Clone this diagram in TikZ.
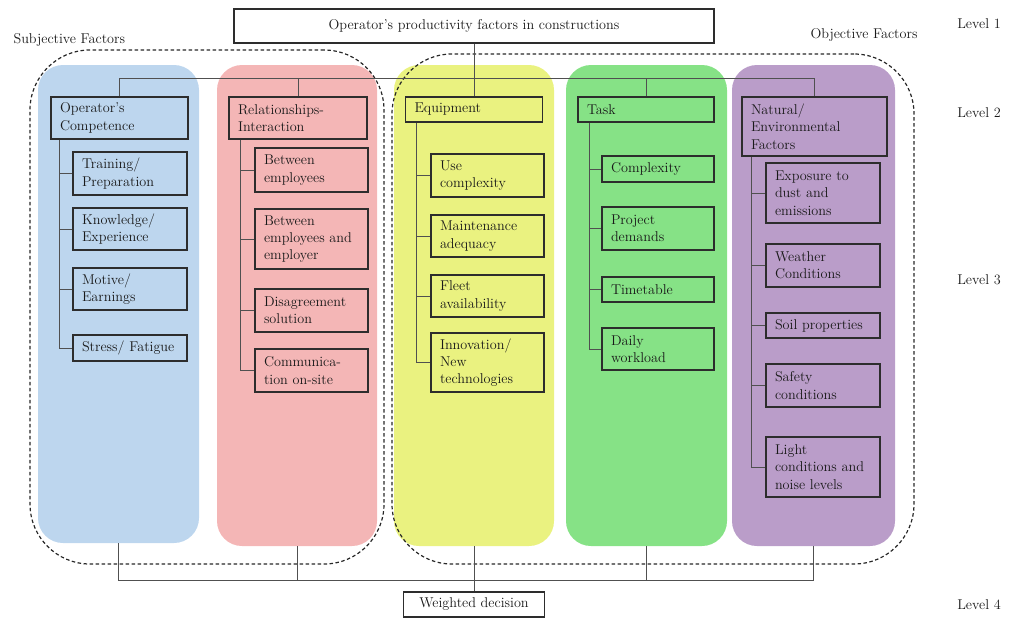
\documentclass[tikz,border=0pt]{standalone}
\usepackage{fontspec}
\definecolor{cblue}{RGB}{189,214,238}
\definecolor{cpink}{RGB}{244,182,182}
\definecolor{cyellow}{RGB}{234,242,128}
\definecolor{cgreen}{RGB}{134,226,134}
\definecolor{cpurple}{RGB}{186,157,201}
\definecolor{boxc}{RGB}{45,45,45}
\definecolor{linec}{RGB}{80,80,80}
\definecolor{dashc}{RGB}{40,40,40}
\definecolor{txt}{RGB}{25,25,25}
\newcommand\fs{\fontsize{14.2}{17.3}\selectfont}
\newcommand\bx[6]{\pgfmathsetmacro\mytw{#4-18}\node[box,minimum width=#4pt,minimum height=#5pt,text width=\mytw pt] (#1) at (#2,#3) {#6};}
\begin{document}
\begin{tikzpicture}[x=1pt,y=-1pt,
  box/.style={draw=boxc,line width=1.3pt,inner xsep=8.5pt,inner ysep=1pt,align=left,text=txt,font=\fs},
  col/.style={rounded corners=25pt,inner sep=0pt},
  conn/.style={draw=linec,line width=0.8pt},
  region/.style={draw=dashc,line width=1.2pt,dash pattern=on 3.5pt off 2.5pt,rounded corners=60pt,inner sep=0pt},
  lvl/.style={font=\fs,text=txt}]
\useasboundingbox (0,0) rectangle (1015,619);
% columns
\node[col,fill=cblue,minimum width=161pt,minimum height=478pt] (colA) at (118.5,304) {};
\node[col,fill=cpink,minimum width=160pt,minimum height=481pt] (colB) at (297,305.5) {};
\node[col,fill=cyellow,minimum width=160pt,minimum height=481pt] (colC) at (474,305.5) {};
\node[col,fill=cgreen,minimum width=161pt,minimum height=481pt] (colD) at (646.5,305.5) {};
\node[col,fill=cpurple,minimum width=163pt,minimum height=481pt] (colE) at (813.5,305.5) {};
% dashed regions
\node[region,minimum width=354pt,minimum height=514pt] (subj) at (207,307) {};
\node[region,minimum width=522pt,minimum height=510pt] (obj) at (653,309) {};
% labels
\node[lvl,anchor=west] (subjL) at (10,40) {Subjective Factors};
\node[lvl,anchor=east] (objL) at (921,35) {Objective Factors};
\node[lvl] (L1) at (979,24) {Level 1};
\node[lvl] (L2) at (979,113) {Level 2};
\node[lvl] (L3) at (979,280) {Level 3};
\node[lvl] (L4) at (979,605) {Level 4};
% level 1 and 4
\node[box,minimum width=480pt,minimum height=34pt] (title) at (474,26) {Operator’s productivity factors in constructions};
\node[box,minimum width=141pt,minimum height=25pt,inner xsep=7pt] (wd) at (474,604.5) {Weighted decision};
% level 2
\bx{comp}{119.5}{118}{137}{42}{Operator’s\\Competence}
\bx{rel}{298}{118}{138}{42}{Relationships-\\Interaction}
\bx{equip}{474}{109.5}{137}{25}{Equipment}
\bx{task}{646}{109.5}{136}{25}{Task}
\bx{nat}{814.5}{126.5}{145}{59}{Natural/\\Environmental\\Factors}
% level 3 blue
\bx{b1}{130}{173.5}{114}{43}{Training/\\Preparation}
\bx{b2}{130}{229}{114}{42}{Knowledge/\\Experience}
\bx{b3}{130}{289}{114}{42}{Motive/\\Earnings}
\bx{b4}{130}{348}{114}{26}{Stress/ Fatigue}
% pink
\bx{p1}{311.5}{170}{113}{44}{Between\\employees}
\bx{p2}{311.5}{239}{113}{60}{Between\\employees and\\employer}
\bx{p3}{311.5}{310.5}{113}{43}{Disagreement\\solution}
\bx{p4}{311.5}{370.5}{113}{43}{Communica-\\tion on-site}
% yellow
\bx{y1}{487.5}{175.5}{113}{43}{Use\\complexity}
\bx{y2}{487.5}{236}{113}{42}{Maintenance\\adequacy}
\bx{y3}{487.5}{296}{113}{42}{Fleet\\availability}
\bx{y4}{487.5}{362.5}{113}{59}{Innovation/\\New\\technologies}
% green
\bx{g1}{658}{169}{112}{26}{Complexity}
\bx{g2}{658}{228.5}{112}{43}{Project\\demands}
\bx{g3}{658}{289.5}{112}{25}{Timetable}
\bx{g4}{658}{349}{112}{42}{Daily\\workload}
% purple
\bx{n1}{823}{193}{114}{60}{Exposure to\\dust and\\emissions}
\bx{n2}{823}{265.5}{114}{43}{Weather\\Conditions}
\bx{n3}{823}{325.5}{114}{25}{Soil properties}
\bx{n4}{823}{385.5}{114}{43}{Safety\\conditions}
\bx{n5}{823}{467}{114}{60}{Light\\conditions and\\noise levels}
% top connectors
\draw[conn] (title.south) -- (equip.north);
\draw[conn] (comp.north) -- ++(0,-18) -| (nat.north);
\draw[conn] (rel.north) -- ++(0,-18);
\draw[conn] (task.north) -- ++(0,-18);
% spines
\coordinate (sA) at ([xshift=9pt]comp.south west);
\coordinate (sB) at ([xshift=12pt]rel.south west);
\coordinate (sC) at ([xshift=12pt]equip.south west);
\coordinate (sD) at ([xshift=12pt]task.south west);
\coordinate (sE) at ([xshift=10pt]nat.south west);
\draw[conn] (sA) |- (b4.west);
\foreach \n in {b1,b2,b3} \draw[conn] (\n.west) -- (\n.west -| sA);
\draw[conn] (sB) |- (p4.west);
\foreach \n in {p1,p2,p3} \draw[conn] (\n.west) -- (\n.west -| sB);
\draw[conn] (sC) |- (y4.west);
\foreach \n in {y1,y2,y3} \draw[conn] (\n.west) -- (\n.west -| sC);
\draw[conn] (sD) |- (g4.west);
\foreach \n in {g1,g2,g3} \draw[conn] (\n.west) -- (\n.west -| sD);
\draw[conn] (sE) |- (n5.west);
\foreach \n in {n1,n2,n3,n4} \draw[conn] (\n.west) -- (\n.west -| sE);
% bottom connectors
\draw[conn] (colA.south) -- ++(0,37) -| (colE.south);
\draw[conn] (colB.south) -- ++(0,34);
\draw[conn] (colD.south) -- ++(0,34);
\draw[conn] (colC.south) -- (wd.north);
\end{tikzpicture}
\end{document}
